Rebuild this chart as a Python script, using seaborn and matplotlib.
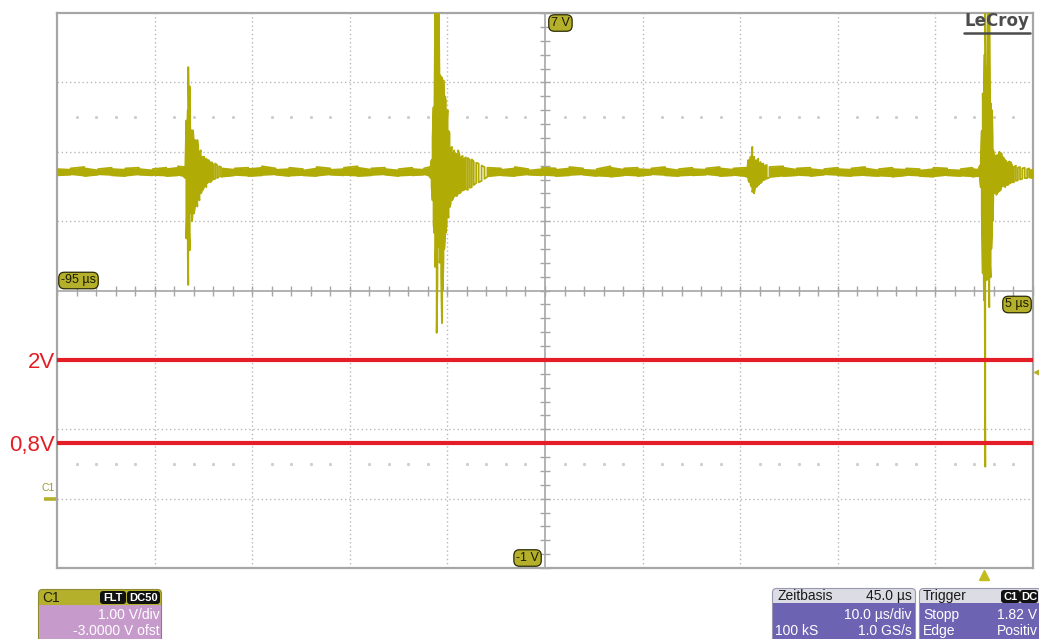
import numpy as np
import pandas as pd
import matplotlib
matplotlib.use("Agg")
import matplotlib.pyplot as plt
import matplotlib.transforms as mtransforms
from matplotlib.patches import FancyBboxPatch, Rectangle
import seaborn as sns

# ---------------------------------------------------------------- screen setup
T_START, T_END = -95.0, 5.0      # µs
V_BOTTOM, V_TOP = -1.0, 7.0      # V
TIME_DIV = 10.0                  # µs/div
VOLT_DIV = 1.0                   # V/div
SAMPLES = "100 kS"
RATE = "1.0 GS/s"

threshold_levels = [2.0, 0.8]
threshold_labels = ["2V", "0,8V"]
trigger_level = 1.82             # V
trigger_time = 0.0               # µs
ground_level = 0.0               # V
guide_rows = [5.5, 0.5]          # V, dotted marker rows

# ---------------------------------------------------------------- trace data
# quiet stretches: band top / bottom of the noisy baseline
qa_t = [-95.0, -93.6, -92.2, -90.8, -89.4, -88.0, -86.6, -85.2, -83.8, -82.6, -82.0]
qa_hi = [4.77, 4.76, 4.78, 4.75, 4.77, 4.76, 4.77, 4.75, 4.77, 4.79, 4.78]
qa_lo = [4.66, 4.67, 4.65, 4.67, 4.66, 4.65, 4.67, 4.66, 4.65, 4.66, 4.64]

qb_t = [-78.2, -76.8, -75.4, -74.0, -72.6, -71.2, -69.8, -68.4, -67.0, -65.6, -64.2,
        -62.8, -61.4, -60.0, -58.6, -57.4, -56.8]
qb_hi = [4.78, 4.76, 4.77, 4.79, 4.76, 4.77, 4.75, 4.78, 4.76, 4.77, 4.79,
         4.76, 4.77, 4.75, 4.77, 4.76, 4.78]
qb_lo = [4.64, 4.66, 4.65, 4.66, 4.67, 4.65, 4.66, 4.65, 4.67, 4.66, 4.65,
         4.66, 4.67, 4.65, 4.66, 4.67, 4.64]

qc_t = [-50.9, -49.5, -48.1, -46.7, -45.3, -43.9, -42.5, -41.1, -39.7, -38.3,
        -36.9, -35.5, -34.1, -32.7, -31.3, -29.9, -28.5, -27.1, -25.7, -24.4]
qc_hi = [4.77, 4.76, 4.78, 4.75, 4.77, 4.76, 4.78, 4.76, 4.75, 4.79,
         4.76, 4.77, 4.76, 4.78, 4.75, 4.77, 4.76, 4.78, 4.76, 4.77]
qc_lo = [4.64, 4.66, 4.65, 4.67, 4.66, 4.65, 4.66, 4.67, 4.65, 4.64,
         4.66, 4.65, 4.67, 4.66, 4.65, 4.66, 4.67, 4.65, 4.66, 4.64]

qd_t = [-22.0, -20.6, -19.2, -17.8, -16.4, -15.0, -13.6, -12.2, -10.8, -9.4,
        -8.0, -6.6, -5.2, -3.8, -2.4, -1.2, -0.55]
qd_hi = [4.78, 4.79, 4.76, 4.77, 4.75, 4.77, 4.76, 4.78, 4.75, 4.77,
         4.76, 4.75, 4.77, 4.76, 4.75, 4.77, 4.76]
qd_lo = [4.63, 4.65, 4.66, 4.65, 4.67, 4.66, 4.65, 4.66, 4.65, 4.64,
         4.66, 4.65, 4.64, 4.66, 4.65, 4.64, 4.65]

qe_t = [4.6, 5.0]
qe_hi = [4.76, 4.75]
qe_lo = [4.63, 4.62]

# bursts: extremes of each ringing swing
b1_t = [-81.85, -81.75, -81.68, -81.60, -81.55, -81.48, -81.40, -81.32, -81.24, -81.16,
        -81.06, -80.96, -80.85, -80.74, -80.62, -80.52, -80.40, -80.28, -80.17, -80.05,
        -79.93, -79.82, -79.70, -79.58, -79.46, -79.30, -79.15, -79.00, -78.80, -78.60, -78.40]
b1_hi = [4.80, 5.45, 5.10, 5.60, 6.22, 5.40, 5.94, 5.05, 5.31, 5.20,
         5.31, 5.10, 5.17, 5.00, 5.17, 5.02, 4.95, 5.02, 4.93, 4.90,
         4.93, 4.85, 4.90, 4.86, 4.88, 4.84, 4.85, 4.82, 4.83, 4.81, 4.79]
b1_lo = [4.62, 3.75, 4.10, 3.50, 3.08, 3.90, 3.58, 4.15, 4.11, 4.00,
         4.20, 4.11, 4.21, 4.30, 4.21, 4.35, 4.30, 4.40, 4.42, 4.45,
         4.49, 4.52, 4.49, 4.55, 4.57, 4.56, 4.58, 4.60, 4.61, 4.62, 4.64]

b2_t = [-56.70, -56.62, -56.52, -56.42, -56.34, -56.26, -56.18, -56.10, -56.02, -55.95,
        -55.88, -55.80, -55.72, -55.64, -55.56, -55.48, -55.40, -55.32, -55.24, -55.16,
        -55.07, -54.98, -54.88, -54.78, -54.66, -54.54, -54.42, -54.30, -54.18, -54.04,
        -53.90, -53.76, -53.60, -53.44, -53.28, -53.10, -52.90, -52.70, -52.50, -52.30,
        -52.05, -51.80, -51.50, -51.20]
b2_hi = [4.80, 4.88, 5.20, 5.64, 5.40, 7.00, 5.70, 7.00, 5.80, 6.60,
         7.00, 5.90, 6.10, 5.60, 6.07, 5.90, 6.03, 5.55, 5.80, 5.74,
         5.40, 5.60, 5.30, 5.27, 5.05, 5.07, 4.95, 5.02, 4.98, 4.95,
         5.02, 4.96, 4.92, 4.94, 4.90, 4.92, 4.91, 4.88, 4.89, 4.86,
         4.84, 4.83, 4.80, 4.78]
b2_lo = [4.62, 4.50, 4.30, 3.95, 3.83, 3.34, 3.60, 2.39, 3.10, 3.70,
         3.63, 3.40, 3.55, 3.20, 2.53, 3.00, 3.44, 3.60, 3.80, 3.83,
         3.95, 4.12, 4.05, 4.20, 4.25, 4.30, 4.32, 4.35, 4.38, 4.36,
         4.40, 4.40, 4.42, 4.44, 4.45, 4.46, 4.45, 4.48, 4.49, 4.52,
         4.55, 4.56, 4.58, 4.61]

b3_t = [-24.25, -24.17, -24.05, -23.93, -23.85, -23.76, -23.67, -23.58, -23.48,
        -23.38, -23.26, -23.15, -23.02, -22.90, -22.76, -22.63, -22.45, -22.28]
b3_hi = [4.79, 4.88, 4.84, 4.93, 4.86, 5.07, 4.90, 4.93, 4.86,
         4.88, 4.85, 4.90, 4.84, 4.85, 4.82, 4.83, 4.80, 4.81]
b3_lo = [4.64, 4.59, 4.56, 4.52, 4.50, 4.42, 4.46, 4.40, 4.47,
         4.49, 4.50, 4.52, 4.54, 4.55, 4.57, 4.59, 4.60, 4.61]

b4_t = [-0.45, -0.35, -0.25, -0.15, -0.08, -0.02, 0.04, 0.11, 0.18, 0.26,
        0.33, 0.39, 0.46, 0.52, 0.59, 0.66, 0.73, 0.80, 0.87, 0.93,
        1.03, 1.14, 1.24, 1.34, 1.45, 1.55, 1.65, 1.75, 1.86, 1.96,
        2.06, 2.16, 2.30, 2.44, 2.58, 2.71, 2.88, 3.05, 3.25, 3.45,
        3.67, 3.90, 4.15, 4.40]
b4_hi = [4.80, 4.88, 5.30, 5.84, 5.40, 5.89, 6.40, 7.00, 6.00, 6.22,
         5.90, 7.00, 6.10, 7.00, 5.80, 5.70, 5.40, 5.60, 5.20, 5.02,
         4.95, 4.88, 4.95, 4.92, 4.96, 5.00, 4.94, 4.98, 4.90, 4.92,
         4.88, 4.88, 4.85, 4.84, 4.86, 4.85, 4.80, 4.78, 4.80, 4.77,
         4.78, 4.76, 4.77, 4.75]
b4_lo = [4.62, 4.49, 4.10, 3.25, 3.60, 2.86, 3.40, 0.46, 3.30, 3.15,
         3.40, 3.19, 3.50, 2.76, 3.40, 3.19, 3.60, 3.83, 4.00, 4.30,
         4.40, 4.45, 4.38, 4.40, 4.42, 4.45, 4.44, 4.49, 4.50, 4.55,
         4.50, 4.49, 4.52, 4.52, 4.54, 4.55, 4.56, 4.56, 4.58, 4.59,
         4.60, 4.61, 4.62, 4.62]

quiet = [(qa_t, qa_hi, qa_lo), (qb_t, qb_hi, qb_lo), (qc_t, qc_hi, qc_lo),
         (qd_t, qd_hi, qd_lo), (qe_t, qe_hi, qe_lo)]
bursts = [(b1_t, b1_hi, b1_lo), (b2_t, b2_hi, b2_lo), (b3_t, b3_hi, b3_lo),
          (b4_t, b4_hi, b4_lo)]

# chain all stretches in time order and turn the extremes into a zig-zag trace
segments = [quiet[0], bursts[0], quiet[1], bursts[1], quiet[2], bursts[2],
            quiet[3], bursts[3], quiet[4]]
t_all = np.concatenate([np.asarray(s[0], float) for s in segments])
hi_all = np.concatenate([np.asarray(s[1], float) for s in segments])
lo_all = np.concatenate([np.asarray(s[2], float) for s in segments])
zig_t = np.repeat(t_all, 2)
zig_v = np.empty_like(zig_t)
for i in range(len(t_all)):
    first, second = (hi_all[i], lo_all[i]) if i % 2 == 0 else (lo_all[i], hi_all[i])
    zig_v[2 * i] = first
    zig_v[2 * i + 1] = second
trace = pd.DataFrame({"time_us": zig_t, "volts": zig_v})

# ---------------------------------------------------------------- styling
sns.set_style("white")
plt.rcParams["font.family"] = ["Liberation Sans", "DejaVu Sans"]

TRACE_C = "#b1ab06"
TAG_C = "#b4b02c"
RED = "#e41e26"
FRAME_C = "#a6a6a6"
GRID_C = "#b8b8b8"

W, H = 1039, 639
fig = plt.figure(figsize=(W / 100, H / 100), dpi=100)
fig.patch.set_facecolor("white")

L, R, T, B = 57, 1033, 13, 568
ax = fig.add_axes([L / W, 1 - B / H, (R - L) / W, (B - T) / H])

# trace
for qt, qh, ql in quiet:
    ax.fill_between(qt, ql, qh, color=TRACE_C, lw=0, zorder=3)
sns.lineplot(data=trace, x="time_us", y="volts", estimator=None, sort=False,
             color=TRACE_C, lw=1.3, ax=ax, legend=False, zorder=3)

ax.set_xlim(T_START, T_END)
ax.set_ylim(V_BOTTOM, V_TOP)
ax.set_xlabel("")
ax.set_ylabel("")
ax.set_xticks([])
ax.set_yticks([])
for s in ax.spines.values():
    s.set_visible(True)
    s.set_color(FRAME_C)
    s.set_linewidth(1.6)

# graticule
center_t = (T_START + T_END) / 2
center_v = (V_BOTTOM + V_TOP) / 2
dotted = (0, (1.0, 2.0))
for x in np.arange(T_START + TIME_DIV, T_END - 1e-9, TIME_DIV):
    if not np.isclose(x, center_t):
        ax.axvline(x, color=GRID_C, lw=1.0, ls=dotted, zorder=1)
for y in np.arange(V_BOTTOM + VOLT_DIV, V_TOP - 1e-9, VOLT_DIV):
    if not np.isclose(y, center_v):
        ax.axhline(y, color=GRID_C, lw=1.0, ls=dotted, zorder=1)
ax.axvline(center_t, color=FRAME_C, lw=1.2, zorder=1)
ax.axhline(center_v, color=FRAME_C, lw=1.2, zorder=1)
minor_t = np.arange(T_START, T_END + 1e-9, TIME_DIV / 5)
minor_v = np.arange(V_BOTTOM, V_TOP + 1e-9, VOLT_DIV / 5)
ax.plot(minor_t, np.full_like(minor_t, center_v), ls="none", marker="|",
        ms=7, mew=1.0, color=FRAME_C, zorder=1, clip_on=False)
ax.plot(np.full_like(minor_v, center_t), minor_v, ls="none", marker="_",
        ms=7, mew=1.0, color=FRAME_C, zorder=1, clip_on=False)
row_t = np.array([x for x in minor_t
                  if not np.isclose((x - T_START) % TIME_DIV, 0)
                  and not np.isclose((x - T_START) % TIME_DIV, TIME_DIV)])
for rv in guide_rows:
    ax.plot(row_t, np.full_like(row_t, rv), ls="none", marker="s", ms=1.1,
            color="#cdcdcd", zorder=1)

# threshold lines and their labels
ylab = mtransforms.blended_transform_factory(ax.transAxes, ax.transData)
for lv, lab in zip(threshold_levels, threshold_labels):
    ax.axhline(lv, color=RED, lw=3.0, zorder=5)
    ax.annotate(lab, xy=(0, lv), xycoords=ylab, xytext=(-2, -8),
                textcoords="offset pixels", ha="right", va="baseline",
                color=RED, fontsize=16, annotation_clip=False)

# range tags
tag_box = dict(boxstyle="round,pad=0.18,rounding_size=0.45", fc=TAG_C,
               ec="#2a2a05", lw=0.9)
tag_kw = dict(textcoords="offset pixels", fontsize=9, color="#1c1c00",
              bbox=tag_box, annotation_clip=False, zorder=6)
ax.annotate(f"{V_TOP:.0f} V", xy=(center_t, V_TOP), xytext=(6, -4),
            ha="left", va="top", **tag_kw)
ax.annotate(f"{V_BOTTOM:.0f} V", xy=(center_t, V_BOTTOM), xytext=(-6, 4),
            ha="right", va="bottom", **tag_kw)
ax.annotate(f"{T_START:.0f} µs", xy=(T_START, center_v), xytext=(4, 4),
            ha="left", va="bottom", **tag_kw)
ax.annotate(f"{T_END:.0f} µs", xy=(T_END, center_v), xytext=(-4, -8),
            ha="right", va="top", **tag_kw)

# ---------------------------------------------------------------- overlay (pixel coordinates)
ov = fig.add_axes([0, 0, 1, 1])
ov.set_xlim(0, W)
ov.set_ylim(H, 0)
ov.axis("off")
ov.patch.set_alpha(0)

ov.text(997, 21.5, "LeCroy", ha="center", va="center", fontsize=12,
        fontweight="bold", color="#4c4c4c", family="DejaVu Sans")
ov.plot([964, 1030], [32.5, 32.5], color="#4c4c4c", lw=1.8)

# channel ground marker
gnd = mtransforms.blended_transform_factory(ov.transData, ax.transData)
ov.plot([44, 56], [ground_level, ground_level], color=TAG_C, lw=2.6,
        transform=gnd, clip_on=False, solid_capstyle="butt")
ov.annotate("C1", xy=(48.5, ground_level), xycoords=gnd, xytext=(0, 11),
            textcoords="offset pixels", ha="center", va="center",
            fontsize=7.5, color="#9c9830")

# trigger level and trigger position markers
ov.plot([1037], [trigger_level], marker="<", ms=5, color=TAG_C,
        transform=gnd, clip_on=False)
tpos = mtransforms.blended_transform_factory(ax.transData, ov.transData)
ov.plot([trigger_time], [575], marker="^", ms=7, color="#c2bc1c",
        transform=tpos, clip_on=False)


def tag(x0, x1, y0, y1, text):
    ov.add_patch(FancyBboxPatch((x0 + 1.5, y0 + 1.5), x1 - x0 - 3, y1 - y0 - 3,
                                boxstyle="round,pad=1.5,rounding_size=3",
                                fc="#111111", ec="none"))
    ov.text((x0 + x1) / 2, (y0 + y1) / 2 + 0.5, text, ha="center", va="center",
            fontsize=8, fontweight="bold", color="white")


# channel panel
ov.add_patch(FancyBboxPatch((40, 591), 120, 60, boxstyle="round,pad=1.5,rounding_size=4",
                            fc=TAG_C, ec="#8f8b30", lw=0.8))
ov.add_patch(Rectangle((38.6, 605), 122.8, 40, fc="#c79acc", ec="none"))
ov.text(42, 598, "C1", ha="left", va="center", fontsize=10, color="#1e1e10")
tag(100, 126, 591, 604, "FLT")
tag(127, 160, 591, 604, "DC50")
ov.text(160, 615, f"{VOLT_DIV:.2f} V/div", ha="right", va="center", fontsize=10, color="white")
ov.text(160, 631, f"{-center_v:.4f} V ofst", ha="right", va="center", fontsize=10, color="white")

# timebase panel
ov.add_patch(FancyBboxPatch((774, 590), 140, 60, boxstyle="round,pad=1.5,rounding_size=4",
                            fc="#dcdce4", ec="#9a98b0", lw=0.8))
ov.add_patch(Rectangle((772.6, 603), 142.8, 40, fc="#6c63b2", ec="none"))
ov.text(777, 596, "Zeitbasis", ha="left", va="center", fontsize=10, color="#1a1a1a")
ov.text(912, 596, f"{-center_t:.1f} µs", ha="right", va="center", fontsize=10, color="#1a1a1a")
ov.text(912, 615, f"{TIME_DIV:.1f} µs/div", ha="right", va="center", fontsize=10, color="white")
ov.text(775, 631, SAMPLES, ha="left", va="center", fontsize=10, color="white")
ov.text(912, 631, RATE, ha="right", va="center", fontsize=10, color="white")

# trigger panel
ov.add_patch(FancyBboxPatch((921, 590), 140, 60, boxstyle="round,pad=1.5,rounding_size=4",
                            fc="#dcdce4", ec="#9a98b0", lw=0.8))
ov.add_patch(Rectangle((919.6, 603), 150, 40, fc="#6c63b2", ec="none"))
ov.text(923, 596, "Trigger", ha="left", va="center", fontsize=10, color="#1a1a1a")
tag(1001, 1020, 590, 603, "C1")
tag(1020, 1038, 590, 603, "DC")
ov.text(923, 615, "Stopp", ha="left", va="center", fontsize=10, color="white")
ov.text(1037, 615, f"{trigger_level:.2f} V", ha="right", va="center", fontsize=10, color="white")
ov.text(923, 631, "Edge", ha="left", va="center", fontsize=10, color="white")
ov.text(1038, 631, "Positiv", ha="right", va="center", fontsize=10, color="white")

fig.savefig("out.png", dpi=100, facecolor="white")
